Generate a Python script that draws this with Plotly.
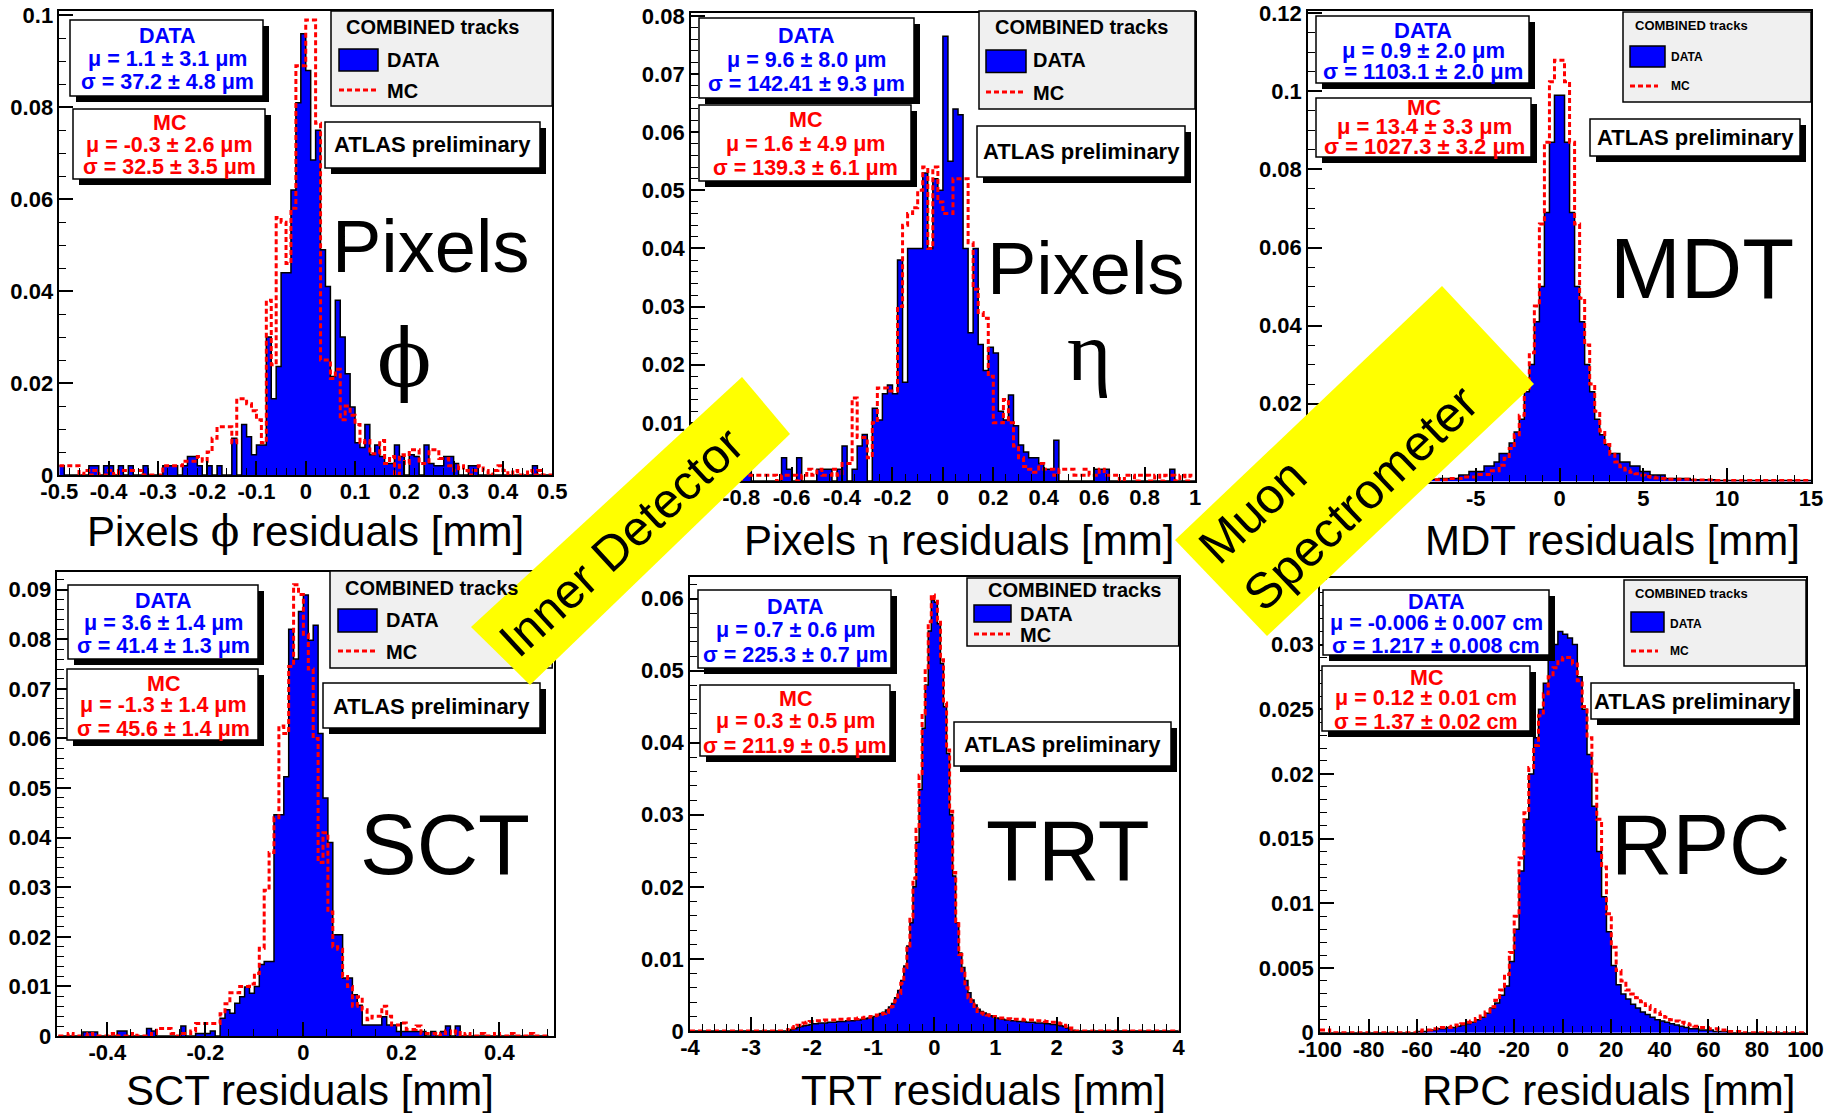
import numpy as np
import plotly.graph_objects as go

W, H = 1828, 1113
SANS = "Liberation Sans, Arial, Helvetica, sans-serif"
SERIF = "Liberation Serif, DejaVu Serif, Times New Roman, serif"
BLUE = "#0000ff"
RED = "#ff0000"

# ---------------- data (normalised bin contents) ----------------
# Pixels phi : 100 bins on [-0.5, 0.5]
phi_range = (-0.5, 0.5)
phi_data = [
    0.002, 0, 0, 0, 0, 0, 0.002, 0.002, 0, 0.002,
    0.002, 0, 0.002, 0, 0.002, 0, 0, 0.002, 0, 0,
    0, 0.002, 0.002, 0.002, 0, 0.002, 0.004, 0.004, 0.002, 0,
    0.002, 0, 0.002, 0, 0, 0.008, 0, 0.011, 0.0083, 0.0044,
    0.0065, 0.0065, 0.030, 0.0166, 0.0236, 0.044, 0.044, 0.062, 0.081, 0.096,
    0.088, 0.0685, 0.075, 0.049, 0.041, 0.0214, 0.038, 0.030, 0.022, 0.0148,
    0.007, 0.006, 0.011, 0.0044, 0.0065, 0.004, 0.0025, 0.0025, 0.0065, 0.004,
    0, 0.0044, 0.004, 0, 0.0065, 0.0025, 0.002, 0.002, 0.004, 0.004,
    0.0025, 0, 0, 0.002, 0.002, 0, 0, 0, 0, 0,
    0, 0, 0, 0, 0, 0, 0.002, 0, 0, 0]
phi_mc = [
    0.002, 0.002, 0.002, 0.002, 0, 0.001, 0, 0.001, 0, 0,
    0.001, 0, 0.001, 0.001, 0.001, 0.001, 0.001, 0, 0, 0,
    0, 0.002, 0.002, 0.002, 0.002, 0.003, 0.003, 0.003, 0.004, 0.003,
    0.005, 0.008, 0.0105, 0.0105, 0.0105, 0.007, 0.0166, 0.0166, 0.0155, 0.014,
    0.012, 0.007, 0.038, 0.024, 0.056, 0.055, 0.046, 0.058, 0.089, 0.089,
    0.099, 0.099, 0.0765, 0.025, 0.025, 0.021, 0.023, 0.012, 0.015, 0.013,
    0.011, 0.007, 0.0075, 0.0046, 0.0046, 0.0075, 0.0025, 0.004, 0, 0.0044,
    0.0025, 0.0055, 0.0055, 0.0025, 0.0025, 0.0055, 0.0055, 0.0036, 0.0036, 0.002,
    0.001, 0.002, 0.001, 0, 0.001, 0.002, 0.001, 0, 0.001, 0.002,
    0.001, 0, 0.001, 0, 0, 0.001, 0, 0.001, 0, 0]

# Pixels eta : 100 bins on [-1, 1]
eta_range = (-1.0, 1.0)
eta_data = [
    0, 0, 0, 0, 0, 0, 0, 0, 0, 0,
    0.002, 0.002, 0, 0, 0, 0, 0, 0, 0.004, 0.002,
    0, 0.004, 0, 0, 0, 0.002, 0.002, 0.002, 0, 0.002,
    0.006, 0, 0.002, 0.006, 0.008, 0, 0.0125, 0.0105, 0.015, 0.0165,
    0.015, 0.038, 0.017, 0.040, 0.040, 0.040, 0.053, 0.040, 0.052, 0.050,
    0.0765, 0.055, 0.064, 0.063, 0.040, 0.0255, 0.040, 0.0235, 0.019, 0.023,
    0.022, 0.012, 0.0105, 0.0148, 0.0095, 0.0062, 0.005, 0.004, 0.004, 0.003,
    0.002, 0.002, 0.007, 0, 0, 0, 0, 0, 0, 0,
    0.002, 0.002, 0.002, 0, 0, 0, 0, 0, 0, 0,
    0, 0, 0, 0, 0, 0.002, 0, 0, 0, 0]
eta_mc = [
    0.001, 0, 0.001, 0.001, 0, 0.001, 0, 0.001, 0.001, 0,
    0.001, 0.001, 0.001, 0.001, 0.001, 0.001, 0.001, 0, 0.001, 0.001,
    0.001, 0, 0.001, 0.002, 0.001, 0.002, 0.001, 0.001, 0.002, 0.001,
    0.003, 0.003, 0.0143, 0.0075, 0.0075, 0.004, 0.010, 0.016, 0.016, 0.0155,
    0.0155, 0.030, 0.044, 0.046, 0.047, 0.050, 0.054, 0.040, 0.054, 0.048,
    0.046, 0.046, 0.052, 0.052, 0.052, 0.041, 0.033, 0.029, 0.028, 0.018,
    0.010, 0.010, 0.014, 0.010, 0.006, 0.004, 0.0025, 0.002, 0.0015, 0.003,
    0.002, 0.002, 0.001, 0.002, 0.002, 0.002, 0.001, 0.001, 0.002, 0.001,
    0.001, 0.002, 0.001, 0.001, 0.001, 0, 0.001, 0.001, 0, 0.001,
    0.001, 0, 0.001, 0, 0.001, 0.001, 0, 0.001, 0, 0.001]

# MDT : 100 bins on [-15, 15]
mdt_range = (-15.0, 15.0)
mdt_data = [
    0.0003, 0.0003, 0.0003, 0.0003, 0.0003, 0.0003, 0.0003, 0.0003, 0.0003, 0.0003,
    0.0003, 0.0003, 0.0003, 0.0003, 0.0003, 0.0004, 0.0004, 0.0004, 0.0004, 0.0004,
    0.0004, 0.0004, 0.0004, 0.0006, 0.0006, 0.0006, 0.0008, 0.0008, 0.0008, 0.0008,
    0.0017, 0.0017, 0.0026, 0.0026, 0.0026, 0.004, 0.004, 0.005, 0.0072, 0.0072,
    0.0099, 0.0127, 0.016, 0.023, 0.030, 0.041, 0.050, 0.069, 0.087, 0.099,
    0.099, 0.087, 0.069, 0.050, 0.041, 0.030, 0.023, 0.016, 0.012, 0.0095,
    0.0072, 0.0072, 0.005, 0.005, 0.004, 0.004, 0.0026, 0.0026, 0.0017, 0.0017,
    0.0017, 0.0008, 0.0008, 0.0008, 0.0008, 0.0008, 0.0005, 0.0005, 0.0005, 0.0005,
    0.0005, 0.0003, 0.0003, 0.0003, 0.0003, 0.0003, 0.0003, 0.0003, 0.0003, 0.0003,
    0.0003, 0.0003, 0.0003, 0.0003, 0.0003, 0.0003, 0.0003, 0.0003, 0.0003, 0.0003]
mdt_mc = [
    0.0002, 0.0002, 0.0002, 0.0002, 0.0002, 0.0002, 0.0002, 0.0002, 0.0002, 0.0002,
    0.0002, 0.0002, 0.0002, 0.0002, 0.0002, 0.0003, 0.0003, 0.0003, 0.0003, 0.0003,
    0.0003, 0.0003, 0.0003, 0.0005, 0.0005, 0.0005, 0.0005, 0.0005, 0.0008, 0.0008,
    0.0008, 0.0012, 0.0012, 0.0012, 0.0018, 0.0018, 0.0028, 0.0028, 0.0042, 0.006,
    0.0085, 0.012, 0.017, 0.024, 0.033, 0.045, 0.066, 0.087, 0.1025, 0.108,
    0.108, 0.1025, 0.087, 0.066, 0.047, 0.035, 0.025, 0.018, 0.013, 0.0095,
    0.007, 0.005, 0.0038, 0.003, 0.0024, 0.002, 0.0016, 0.0013, 0.0011, 0.0009,
    0.0008, 0.0006, 0.0006, 0.0006, 0.0006, 0.0006, 0.0004, 0.0004, 0.0004, 0.0004,
    0.0004, 0.0003, 0.0003, 0.0003, 0.0003, 0.0003, 0.0003, 0.0003, 0.0003, 0.0003,
    0.0003, 0.0003, 0.0003, 0.0003, 0.0003, 0.0003, 0.0003, 0.0003, 0.0003, 0.0003]

# SCT : 100 bins on [-0.5, 0.5]
sct_range = (-0.5, 0.5)
sct_data = [
    0, 0, 0, 0, 0, 0.0008, 0.0008, 0.0008, 0, 0,
    0, 0, 0.001, 0.001, 0, 0, 0, 0, 0.0015, 0.001,
    0, 0, 0, 0, 0, 0.002, 0, 0, 0.0005, 0.0005,
    0.0005, 0.001, 0, 0.0036, 0.0053, 0.0046, 0.0066, 0.0079, 0.0099, 0.0086,
    0.010, 0.0144, 0.015, 0.015, 0.0446, 0.0446, 0.0523, 0.082, 0.076, 0.0856,
    0.0889, 0.0798, 0.0828, 0.061, 0.048, 0.039, 0.0204, 0.0204, 0.0117, 0.0117,
    0.0083, 0.0062, 0.0022, 0.0022, 0.0022, 0.0022, 0.0039, 0.0022, 0.0022, 0.0009,
    0.0009, 0.0009, 0.0009, 0.0009, 0.0009, 0, 0.0009, 0, 0.0009, 0.002,
    0, 0.002, 0, 0, 0, 0, 0, 0, 0, 0,
    0, 0, 0, 0, 0, 0, 0, 0, 0, 0]
sct_mc = [
    0, 0, 0.0005, 0, 0, 0, 0.0005, 0, 0, 0,
    0, 0.0005, 0, 0, 0, 0.0005, 0, 0, 0, 0.0005,
    0.0015, 0.0015, 0.0015, 0.0005, 0, 0.0005, 0.0005, 0.001, 0.0025, 0.0025,
    0.0025, 0.0025, 0.0025, 0.0045, 0.0065, 0.0087, 0.0087, 0.010, 0.010, 0.0105,
    0.0126, 0.0177, 0.0294, 0.037, 0.044, 0.0625, 0.061, 0.0745, 0.091, 0.089,
    0.081, 0.074, 0.060, 0.035, 0.041, 0.025, 0.018, 0.0175, 0.012, 0.010,
    0.006, 0.0079, 0.0053, 0.0033, 0.004, 0.004, 0.006, 0.004, 0.0022, 0.0022,
    0.0026, 0.0013, 0.0013, 0.002, 0.0005, 0.0005, 0.0005, 0, 0.0005, 0.001,
    0.0005, 0.001, 0, 0.0005, 0, 0, 0.0005, 0, 0, 0.0005,
    0, 0, 0.0005, 0, 0, 0, 0.0005, 0, 0, 0]

# TRT : 160 bins on [-4, 4]
trt_range = (-4.0, 4.0)
trt_data = [
    0, 0, 0, 0, 0, 0, 0, 0, 0, 0, 0, 0, 0, 0, 0, 0,
    0, 0, 0, 0, 0, 0, 0, 0, 0, 0, 0, 0, 0, 0, 0, 0,
    0.0001, 0.0002, 0.0003, 0.0005, 0.0006, 0.0007, 0.0008, 0.0009, 0.0010, 0.0010,
    0.0011, 0.0011, 0.0011, 0.0012, 0.0012, 0.0012, 0.0013, 0.0013, 0.0013, 0.0014,
    0.0014, 0.0014, 0.0015, 0.0015, 0.0016, 0.0017, 0.0018, 0.0019, 0.0020, 0.0022,
    0.0024, 0.0026, 0.0029, 0.0033, 0.0038, 0.0046, 0.0056, 0.0070, 0.0090, 0.0118,
    0.0150, 0.0200, 0.0262, 0.0335, 0.0420, 0.0480, 0.0555, 0.0598,
    0.0595, 0.0565, 0.0510, 0.0450, 0.0385, 0.0300, 0.0215, 0.0150, 0.0108, 0.0088,
    0.0070, 0.0053, 0.0043, 0.0036, 0.0030, 0.0027, 0.0025, 0.0023, 0.0021, 0.0019,
    0.0018, 0.0017, 0.0016, 0.0015, 0.0015, 0.0014, 0.0014, 0.0013, 0.0013, 0.0013,
    0.0012, 0.0012, 0.0012, 0.0011, 0.0011, 0.0011, 0.0010, 0.0010, 0.0009, 0.0009,
    0.0008, 0.0007, 0.0006, 0.0004, 0.0003, 0.0001,
    0, 0, 0, 0, 0, 0, 0, 0, 0, 0, 0, 0, 0, 0, 0, 0, 0,
    0, 0, 0, 0, 0, 0, 0, 0, 0, 0, 0, 0, 0, 0, 0, 0, 0]
trt_mc = [
    0, 0, 0, 0, 0, 0, 0, 0, 0, 0, 0, 0, 0, 0, 0, 0,
    0, 0, 0, 0, 0, 0, 0, 0, 0, 0, 0, 0, 0, 0, 0, 0,
    0.0002, 0.0004, 0.0006, 0.0008, 0.0010, 0.0011, 0.0012, 0.0013, 0.0013, 0.0014,
    0.0014, 0.0014, 0.0015, 0.0015, 0.0015, 0.0015, 0.0016, 0.0016, 0.0016, 0.0016,
    0.0017, 0.0017, 0.0017, 0.0018, 0.0018, 0.0019, 0.0019, 0.0020, 0.0021, 0.0022,
    0.0023, 0.0024, 0.0026, 0.0029, 0.0034, 0.0042, 0.0052, 0.0066, 0.0088, 0.0118,
    0.0158, 0.0212, 0.0280, 0.0355, 0.0440, 0.0500, 0.0568, 0.0605,
    0.0600, 0.0570, 0.0515, 0.0455, 0.0390, 0.0305, 0.0220, 0.0152, 0.0106, 0.0080,
    0.0060, 0.0046, 0.0037, 0.0031, 0.0027, 0.0025, 0.0023, 0.0022, 0.0021, 0.0020,
    0.0019, 0.0018, 0.0018, 0.0017, 0.0017, 0.0016, 0.0016, 0.0016, 0.0016, 0.0015,
    0.0015, 0.0015, 0.0015, 0.0014, 0.0014, 0.0014, 0.0013, 0.0013, 0.0012, 0.0012,
    0.0011, 0.0010, 0.0008, 0.0006, 0.0004, 0.0002,
    0, 0, 0, 0, 0, 0, 0, 0, 0, 0, 0, 0, 0, 0, 0, 0, 0,
    0, 0, 0, 0, 0, 0, 0, 0, 0, 0, 0, 0, 0, 0, 0, 0, 0]

# RPC : 100 bins on [-100, 100]
rpc_range = (-100.0, 100.0)
rpc_data = [
    0, 0, 0, 0, 0, 0, 0, 0, 0, 0,
    0, 0, 0, 0, 0, 0, 0, 0, 0, 0,
    0.0001, 0.0001, 0.0002, 0.0002, 0.0003, 0.0003, 0.0004, 0.0004, 0.0005, 0.0006,
    0.0007, 0.0008, 0.0010, 0.0012, 0.0015, 0.0019, 0.0023, 0.0029, 0.0036, 0.0055,
    0.0080, 0.0125, 0.0165, 0.0200, 0.0228, 0.0250, 0.0270, 0.0288, 0.0300, 0.0310,
    0.0308, 0.0305, 0.0300, 0.0275, 0.0250, 0.0215, 0.0175, 0.0140, 0.0105, 0.0078,
    0.0052, 0.0037, 0.0030, 0.0026, 0.0022, 0.0019, 0.0016, 0.0014, 0.0012, 0.0010,
    0.0009, 0.0008, 0.0007, 0.0006, 0.0005, 0.0004, 0.0003, 0.0003, 0.0002, 0.0002,
    0.0002, 0.0001, 0.0001, 0.0001, 0, 0, 0, 0, 0, 0,
    0, 0, 0, 0, 0, 0, 0, 0, 0, 0]
rpc_mc = [
    0.0002, 0.0002, 0, 0, 0, 0, 0, 0, 0, 0,
    0, 0, 0, 0, 0, 0, 0, 0, 0, 0,
    0.0001, 0.0002, 0.0002, 0.0003, 0.0003, 0.0004, 0.0004, 0.0005, 0.0006, 0.0007,
    0.0008, 0.0009, 0.0011, 0.0013, 0.0016, 0.0020, 0.0025, 0.0033, 0.0045, 0.0062,
    0.0090, 0.0135, 0.0170, 0.0205, 0.0222, 0.0245, 0.0262, 0.0275, 0.0282, 0.0288,
    0.0290, 0.0290, 0.0285, 0.0272, 0.0252, 0.0228, 0.0200, 0.0165, 0.0128, 0.0092,
    0.0066, 0.0048, 0.0040, 0.0033, 0.0030, 0.0027, 0.0024, 0.0021, 0.0018, 0.0016,
    0.0014, 0.0012, 0.0010, 0.0009, 0.0008, 0.0007, 0.0006, 0.0005, 0.0004, 0.0004,
    0.0003, 0.0003, 0.0002, 0.0002, 0.0001, 0.0001, 0.0001, 0, 0, 0,
    0, 0, 0, 0, 0, 0, 0, 0, 0, 0]

# ---------------- tick labels ----------------
phi_xticks = [-0.5, -0.4, -0.3, -0.2, -0.1, 0, 0.1, 0.2, 0.3, 0.4, 0.5]
phi_xtext = ["-0.5", "-0.4", "-0.3", "-0.2", "-0.1", "0", "0.1", "0.2", "0.3", "0.4", "0.5"]
phi_yticks = [0, 0.02, 0.04, 0.06, 0.08, 0.1]
phi_ytext = ["0", "0.02", "0.04", "0.06", "0.08", "0.1"]
eta_xticks = [-1, -0.8, -0.6, -0.4, -0.2, 0, 0.2, 0.4, 0.6, 0.8, 1]
eta_xtext = ["-1", "-0.8", "-0.6", "-0.4", "-0.2", "0", "0.2", "0.4", "0.6", "0.8", "1"]
eta_yticks = [0, 0.01, 0.02, 0.03, 0.04, 0.05, 0.06, 0.07, 0.08]
eta_ytext = ["0", "0.01", "0.02", "0.03", "0.04", "0.05", "0.06", "0.07", "0.08"]
mdt_xticks = [-15, -10, -5, 0, 5, 10, 15]
mdt_xtext = ["-15", "-10", "-5", "0", "5", "10", "15"]
mdt_yticks = [0, 0.02, 0.04, 0.06, 0.08, 0.1, 0.12]
mdt_ytext = ["0", "0.02", "0.04", "0.06", "0.08", "0.1", "0.12"]
sct_xticks = [-0.4, -0.2, 0, 0.2, 0.4]
sct_xtext = ["-0.4", "-0.2", "0", "0.2", "0.4"]
sct_yticks = [0, 0.01, 0.02, 0.03, 0.04, 0.05, 0.06, 0.07, 0.08, 0.09]
sct_ytext = ["0", "0.01", "0.02", "0.03", "0.04", "0.05", "0.06", "0.07", "0.08", "0.09"]
trt_xticks = [-4, -3, -2, -1, 0, 1, 2, 3, 4]
trt_xtext = ["-4", "-3", "-2", "-1", "0", "1", "2", "3", "4"]
trt_yticks = [0, 0.01, 0.02, 0.03, 0.04, 0.05, 0.06]
trt_ytext = ["0", "0.01", "0.02", "0.03", "0.04", "0.05", "0.06"]
rpc_xticks = [-100, -80, -60, -40, -20, 0, 20, 40, 60, 80, 100]
rpc_xtext = ["-100", "-80", "-60", "-40", "-20", "0", "20", "40", "60", "80", "100"]
rpc_yticks = [0, 0.005, 0.01, 0.015, 0.02, 0.025, 0.03]
rpc_ytext = ["0", "0.005", "0.01", "0.015", "0.02", "0.025", "0.03"]

# ---------------- helpers ----------------
fig = go.Figure()
shapes = []
annots = []


def px(x):
    return x / W


def py(y):
    return 1 - y / H


def step(lo, hi, vals):
    edges = np.linspace(lo, hi, len(vals) + 1)
    return list(edges), list(vals) + [vals[-1]]


def axes(i, xr, yr, xdom, ydom, xt, xtt, yt, ytt, xminor, yminor):
    common = dict(showgrid=False, zeroline=False, showline=True, mirror=True,
                  linecolor="black", linewidth=1.5, ticks="inside", ticklen=14,
                  tickwidth=1.5, tickcolor="black", tickmode="array", fixedrange=True,
                  automargin=False,
                  tickfont=dict(family=SANS, size=22, color="black", weight="bold"))
    xa = dict(common, domain=[px(xdom[0]), px(xdom[1])], range=list(xr),
              tickvals=xt, ticktext=xtt, anchor="y%d" % i, ticklabelstandoff=-4,
              minor=dict(ticks="inside", ticklen=7, tickwidth=1.2, tickcolor="black",
                         tickmode="linear", tick0=xr[0], dtick=xminor, showgrid=False))
    ya = dict(common, domain=[py(ydom[1]), py(ydom[0])], range=list(yr),
              tickvals=yt, ticktext=ytt, anchor="x%d" % i,
              minor=dict(ticks="inside", ticklen=7, tickwidth=1.2, tickcolor="black",
                         tickmode="linear", tick0=0, dtick=yminor, showgrid=False))
    return xa, ya


def hist(i, rng, data, mc):
    xs, ys = step(rng[0], rng[1], data)
    fig.add_trace(go.Scatter(x=xs, y=ys, mode="lines", fill="tozeroy", fillcolor=BLUE,
                             line=dict(shape="hv", color="black", width=1.5),
                             xaxis="x%d" % i, yaxis="y%d" % i, hoverinfo="skip"))
    xs, ys = step(rng[0], rng[1], mc)
    fig.add_trace(go.Scatter(x=xs, y=ys, mode="lines",
                             line=dict(shape="hv", color=RED, width=3, dash="5px,3px"),
                             xaxis="x%d" % i, yaxis="y%d" % i, hoverinfo="skip"))


def rect(x0, y0, x1, y1, fill, lw=1.5, lc="black"):
    shapes.append(dict(type="rect", xref="paper", yref="paper", x0=px(x0), x1=px(x1),
                       y0=py(y1), y1=py(y0), fillcolor=fill,
                       line=dict(color=lc, width=lw), layer="above"))


def box(x0, y0, x1, y1, fill="white", shadow=6):
    if shadow:
        rect(x0 + shadow, y0 + shadow, x1 + shadow, y1 + shadow, "black", lw=0, lc="black")
    rect(x0, y0, x1, y1, fill)


def text(s, x, y, size, color="black", bold=True, anchor="center", family=SANS, angle=0):
    annots.append(dict(text=("<b>%s</b>" % s) if bold else s, x=px(x), y=py(y),
                       xref="paper", yref="paper", showarrow=False, xanchor=anchor,
                       yanchor="middle", textangle=angle,
                       font=dict(family=family, size=size, color=color)))


def stats(bx, lines, ys, cx, color, size):
    box(*bx)
    for s, y in zip(lines, ys):
        text(s, cx, y, size, color)


def legend(lb, head, hsize, rb, dtx, dty, ly, lx1, mty, isize, head_anchor="center"):
    box(*lb, fill="#f0f0f0", shadow=0)
    text("COMBINED tracks", head[0], head[1], hsize, anchor=head_anchor)
    rect(*rb, BLUE, lw=1.5)
    shapes.append(dict(type="line", xref="paper", yref="paper", x0=px(rb[0]), x1=px(lx1),
                       y0=py(ly), y1=py(ly), line=dict(color=RED, width=3, dash="5px,3px"),
                       layer="above"))
    text("DATA", dtx, dty, isize, anchor="left")
    text("MC", dtx, mty, isize, anchor="left")


def atlas(bx, ty):
    box(*bx)
    text("ATLAS preliminary", (bx[0] + bx[2]) / 2, ty, 22)


# ---------------- panels ----------------
lay = {}
cfg = [
    (1, phi_range, phi_range, (0, 0.101), (59.3, 552.2), (10.7, 475.0), phi_xticks, phi_xtext, phi_yticks, phi_ytext, 0.02, 0.005, phi_data, phi_mc),
    (2, eta_range, eta_range, (0, 0.0806), (690.8, 1195.0), (12.5, 481.0), eta_xticks, eta_xtext, eta_yticks, eta_ytext, 0.05, 0.002, eta_data, eta_mc),
    (3, mdt_range, mdt_range, (0, 0.1207), (1308.0, 1811.0), (10.7, 481.6), mdt_xticks, mdt_xtext, mdt_yticks, mdt_ytext, 1, 0.005, mdt_data, mdt_mc),
    (4, (-0.502, 0.511), sct_range, (0, 0.0935), (57.4, 553.8), (572.3, 1036.0), sct_xticks, sct_xtext, sct_yticks, sct_ytext, 0.05, 0.002, sct_data, sct_mc),
    (5, trt_range, trt_range, (0, 0.0630), (690.0, 1178.7), (577.0, 1030.9), trt_xticks, trt_xtext, trt_yticks, trt_ytext, 0.2, 0.002, trt_data, trt_mc),
    (6, rpc_range, rpc_range, (0, 0.03517), (1320.0, 1805.5), (577.6, 1032.7), rpc_xticks, rpc_xtext, rpc_yticks, rpc_ytext, 4, 0.001, rpc_data, rpc_mc),
]
for (i, xr, hr, yr, xd, yd, xt, xtt, yt, ytt, xm, ym, d, m) in cfg:
    xa, ya = axes(i, xr, yr, xd, yd, xt, xtt, yt, ytt, xm, ym)
    lay["xaxis%d" % i] = xa
    lay["yaxis%d" % i] = ya
    hist(i, hr, d, m)

MU, SG, PM = "\u03bc", "\u03c3", "\u00b1"
PHI = "<span style='font-family:DejaVu Serif'>\u03d5</span>"
ETA = "<span style='font-family:Liberation Serif'>\u03b7</span>"

# Panel 1 : Pixels phi
stats((70, 20, 263, 96), ["DATA", MU + " = 1.1 " + PM + " 3.1 " + MU + "m", SG + " = 37.2 " + PM + " 4.8 " + MU + "m"], (36, 59, 82), 167, BLUE, 21.5)
stats((73, 109, 265, 179), ["MC", MU + " = -0.3 " + PM + " 2.6 " + MU + "m", SG + " = 32.5 " + PM + " 3.5 " + MU + "m"], (123, 145, 167), 169, RED, 21.5)
legend((331, 11, 552.2, 106), (432, 27), 20, (339, 49, 378, 71), 385, 60, 90, 377, 91, 20)
atlas((325, 122, 540, 168), 145)
text("Pixels", 430, 247, 74, bold=False)
text("\u03d5", 404, 358, 80, bold=False, family="DejaVu Serif")
text("Pixels " + PHI + " residuals [mm]", 305, 531, 42, bold=False)

# Panel 2 : Pixels eta
stats((699, 18, 914, 98), ["DATA", MU + " = 9.6 " + PM + " 8.0 " + MU + "m", SG + " = 142.41 " + PM + " 9.3 " + MU + "m"], (36, 60, 84), 806, BLUE, 21.5)
stats((699, 105, 911, 181), ["MC", MU + " = 1.6 " + PM + " 4.9 " + MU + "m", SG + " = 139.3 " + PM + " 6.1 " + MU + "m"], (120, 144, 168), 805, RED, 21.5)
legend((979, 11, 1195, 109), (1081, 27), 20, (986, 50, 1026, 72.5), 1031, 60, 92, 1024, 93, 20)
atlas((977, 126, 1185, 177), 152)
text("Pixels", 1085, 268, 74, bold=False)
text("\u03b7", 1089, 351, 85, bold=False, family=SERIF)
text("Pixels " + ETA + " residuals [mm]", 959, 540, 42, bold=False)

# Panel 3 : MDT
stats((1316, 16, 1529, 83), ["DATA", MU + " = 0.9 " + PM + " 2.0 " + MU + "m", SG + " = 1103.1 " + PM + " 2.0 " + MU + "m"], (30, 50, 71), 1423, BLUE, 22)
stats((1316, 98, 1531, 157), ["MC", MU + " = 13.4 " + PM + " 3.3 " + MU + "m", SG + " = 1027.3 " + PM + " 3.2 " + MU + "m"], (107, 127, 146), 1424, RED, 22)
legend((1623, 12, 1811, 102), (1633, 26), 13, (1630, 46, 1665, 67), 1669, 57, 86, 1658, 86, 12, head_anchor="left")
atlas((1590, 119, 1800, 156), 137)
text("MDT", 1702, 268, 85, bold=False)
text("MDT residuals [mm]", 1612, 540, 42, bold=False)

# Panel 4 : SCT
stats((68, 585, 258, 659), ["DATA", MU + " = 3.6 " + PM + " 1.4 " + MU + "m", SG + " = 41.4 " + PM + " 1.3 " + MU + "m"], (601, 623, 646), 163, BLUE, 21.5)
stats((67, 669, 258, 740), ["MC", MU + " = -1.3 " + PM + " 1.4 " + MU + "m", SG + " = 45.6 " + PM + " 1.4 " + MU + "m"], (684, 705, 729), 163, RED, 21.5)
legend((330, 571, 552.2, 668), (431, 588), 20, (338, 609, 377, 632), 384, 620, 651, 377, 652, 20)
atlas((323, 683, 540, 728), 706)
text("SCT", 445, 844, 85, bold=False)
text("SCT residuals [mm]", 310, 1090, 42, bold=False)

# Panel 5 : TRT
stats((698, 590, 891, 668), ["DATA", MU + " = 0.7 " + PM + " 0.6 " + MU + "m", SG + " = 225.3 " + PM + " 0.7 " + MU + "m"], (607, 630, 655), 795, BLUE, 21.5)
stats((700, 685, 890, 756), ["MC", MU + " = 0.3 " + PM + " 0.5 " + MU + "m", SG + " = 211.9 " + PM + " 0.5 " + MU + "m"], (699, 721, 746), 795, RED, 21.5)
legend((967, 578, 1178.7, 646), (1074, 590), 20, (974, 605, 1011, 622), 1018, 614, 634, 1010, 635, 20)
atlas((954, 722, 1171, 766), 744)
text("TRT", 1068, 850, 85, bold=False)
text("TRT residuals [mm]", 983, 1090, 42, bold=False)

# Panel 6 : RPC
stats((1323, 590, 1549, 655), ["DATA", MU + " = -0.006 " + PM + " 0.007 cm", SG + " = 1.217 " + PM + " 0.008 cm"], (602, 623, 646), 1436, BLUE, 21.5)
stats((1322, 666, 1530, 731), ["MC", MU + " = 0.12 " + PM + " 0.01 cm", SG + " = 1.37 " + PM + " 0.02 cm"], (678, 698, 722), 1426, RED, 21.5)
legend((1624, 580, 1806, 666), (1633, 593), 13, (1631, 612, 1664, 632), 1668, 623.5, 651, 1658, 651, 12, head_anchor="left")
atlas((1591, 683, 1794, 719), 701)
text("RPC", 1700, 844, 85, bold=False)
text("RPC residuals [mm]", 1608, 1090, 42, bold=False)


# ---------------- yellow detector bands ----------------
def band(pts):
    path = "M " + " L ".join("%.5f,%.5f" % (px(x), py(y)) for x, y in pts) + " Z"
    shapes.append(dict(type="path", xref="paper", yref="paper", path=path,
                       fillcolor="#ffff00", line=dict(width=0), layer="above"))


band([(471, 627), (742, 377), (790, 434), (530, 685)])
band([(1175, 540), (1442, 286), (1534, 384), (1267, 636)])
text("Inner Detector", 621, 542, 49, bold=False, angle=-42.7)
annots.append(dict(text="Muon<br>Spectrometer", x=px(1338), y=py(474), xref="paper", yref="paper",
                   showarrow=False, xanchor="center", yanchor="middle", align="left",
                   textangle=-43.6, font=dict(family=SANS, size=50, color="black")))

fig.update_layout(width=W, height=H, margin=dict(l=0, r=0, t=0, b=0, autoexpand=False),
                  paper_bgcolor="white", plot_bgcolor="white", showlegend=False,
                  shapes=shapes, annotations=annots, **lay)
fig.write_html("out.html")
